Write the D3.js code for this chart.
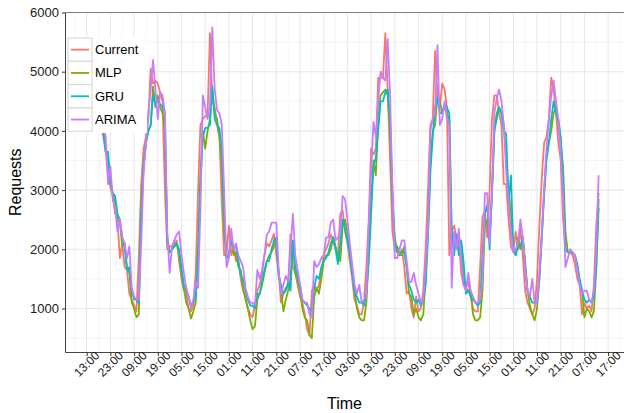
<!DOCTYPE html>
<html>
<head>
<meta charset="utf-8">
<script src="https://cdn.jsdelivr.net/npm/d3@7"></script>
<style>
  body { margin: 0; background: #fff; }
  svg { display: block; font-family: "Liberation Sans", Arial, sans-serif; }
</style>
</head>
<body>
<div id="chart"></div>
<script>
// Hourly request counts, hour 0 = 13:00 on the first day, data starts at hour 2
const startHour = 2;

const current = [
  4700, 4500, 4400, 4250, 4100, 3900, 3650, 3300, 3050, 2900,
  2600, 2500, 1850, 2100, 1700, 1650, 1250, 1150, 1050, 950,
  1900, 3100, 3700, 3900, 4200, 5050, 4800, 4850, 4800, 4650,
  4500, 3000, 2000, 2050, 2050, 2100, 2150, 1800, 1500, 1300,
  1250, 1000, 950, 1050, 1600, 3000, 4100, 4200, 4250, 4250,
  5650, 4500, 4400, 4100, 3900, 2800, 1900, 1900, 2400, 1900,
  2050, 1800, 1800, 1500, 1300, 1200, 1000, 900, 850, 1050,
  1300, 1400, 1600, 1900, 2100, 2050, 2150, 2260, 1900, 1600,
  1100, 1250, 1350, 1350, 2250, 1700, 1600, 1400, 1200, 1100,
  900, 650, 550, 1300, 1400, 1300, 1400, 1600, 1900, 2000,
  2100, 2250, 2150, 2000, 1900, 2600, 2650, 2300, 2100, 1800,
  1500, 1150, 1050, 900, 900, 1100, 1700, 2500, 3700, 3600,
  3700, 4900, 4900, 4900, 5650, 4700, 3500, 2300, 2000, 1950,
  1900, 2000, 1700, 1250, 1300, 1000, 850, 1200, 950, 1000,
  1300, 2000, 3000, 4100, 4200, 5350, 4600, 4400, 4800, 4700,
  4400, 1900, 2300, 2400, 2200, 2200, 1600, 1400, 1350, 1450,
  1200, 1000, 950, 950, 1700, 2550, 2650, 2200, 3000, 4200,
  4600, 4600, 4300, 4100, 3100, 3100, 2500, 2050, 1950, 2300,
  2000, 2350, 1900, 1300, 1100, 1000, 900, 1000, 1500, 2400,
  3200, 3800, 3900, 4200, 4900, 4700, 4300, 3800, 3500, 2500,
  2000, 1950, 1950, 1900, 1750, 1500, 1400, 900, 1100, 1000,
  1050, 950, 1400, 2400, 2950
];

const mlp = [
  4800, 4650, 4500, 4400, 4250, 4050, 3700, 3500, 3150, 2950,
  2800, 2500, 2450, 2050, 2100, 1700, 1600, 1100, 1000, 850,
  900, 2700, 3400, 3800, 4000, 4100, 4750, 4400, 4600, 4400,
  4300, 4000, 2200, 1950, 2000, 2050, 2100, 1900, 1600, 1350,
  1100, 1000, 830, 950, 1100, 2000, 3300, 4000, 3700, 4000,
  4200, 4700, 4300, 4200, 3900, 3500, 2300, 1850, 1900, 2200,
  1900, 1950, 1700, 1650, 1350, 1150, 1000, 800, 650, 700,
  1150, 1250, 1400, 1600, 1800, 1900, 1950, 2050, 2150, 1600,
  1300, 950, 1150, 1300, 1500, 2100, 1600, 1450, 1300, 1000,
  850, 800, 550, 500, 1200, 1350, 1250, 1500, 1800, 1900,
  1900, 2000, 2200, 2050, 1900, 1800, 2400, 2500, 2300, 2000,
  1700, 1300, 1000, 850, 800, 800, 1100, 1900, 2800, 3500,
  3250, 4200, 4600, 4650, 4700, 4600, 4000, 2800, 2200, 1950,
  1900, 1900, 2050, 1700, 1250, 1200, 900, 1000, 850, 800,
  900, 1500, 2300, 3500, 4000, 4100, 4600, 4500, 4300, 4400,
  4300, 4200, 2200, 2000, 2200, 2100, 2100, 1500, 1350, 1300,
  1300, 900, 800, 800, 850, 1300, 2400, 2500, 2200, 2900,
  4000, 4300, 4400, 4300, 4100, 3500, 3000, 2600, 2000, 1900,
  2200, 2000, 2200, 1800, 1300, 1050, 900, 800, 1000, 1500,
  2200, 3000, 3600, 3800, 4000, 4300, 4400, 4100, 3800, 3400,
  2300, 1950, 1950, 1950, 1900, 1700, 1450, 1300, 850, 1000,
  950, 850, 950, 1700, 2700
];

const gru = [
  4800, 4700, 4500, 4400, 4250, 4000, 3650, 3650, 3150, 2950,
  2900, 2600, 2500, 2200, 2050, 1650, 1700, 1300, 1150, 1150,
  1100, 2500, 3400, 3800, 4000, 4100, 4600, 4450, 4500, 4450,
  4400, 4300, 2100, 1950, 2000, 2050, 2100, 2000, 1700, 1400,
  1300, 1200, 1050, 1100, 1200, 1900, 3100, 3900, 4050, 4050,
  4100, 4750, 4200, 4100, 4050, 3700, 2600, 1850, 1900, 2150,
  2050, 2050, 1800, 1550, 1500, 1300, 1150, 1050, 1050, 1000,
  1250, 1250, 1450, 1650, 1800, 1800, 2000, 2150, 2200, 1550,
  1400, 1250, 1300, 1450, 1300, 2150, 1700, 1550, 1400, 1150,
  1100, 1050, 1000, 950, 1350, 1550, 1500, 1700, 1800, 1850,
  1950, 2100, 2200, 2000, 1750, 2100, 2500, 2350, 2150, 1950,
  1600, 1300, 1200, 1100, 1100, 1050, 1250, 1800, 2600, 3400,
  3550, 4000, 4500, 4500, 4650, 4700, 4200, 3000, 2050, 2050,
  1950, 1950, 1950, 1700, 1400, 1300, 1150, 1100, 1150, 1050,
  1150, 1400, 2200, 3300, 3900, 4400, 4550, 4300, 4300, 4450,
  4400, 4300, 2300, 1900, 2250, 1900, 2150, 1800, 1250, 1300,
  1200, 1150, 1100, 1050, 1100, 1900, 2600, 2750, 2000, 3000,
  4000, 4200, 4400, 4300, 4000, 3950, 2800, 3250, 2000, 1900,
  2050, 2050, 2200, 1700, 1300, 1200, 1100, 1100, 1100, 1500,
  2200, 2900, 3500, 3800, 4200, 4500, 4300, 4200, 3900, 3200,
  2000, 1950, 1950, 1950, 1900, 1750, 1500, 1300, 1150, 1100,
  1150, 1100, 1200, 1700, 2850
];

const arima = [
  5000, 4800, 4600, 4500, 4350, 4100, 3900, 3100, 3400, 2850,
  2700, 2300, 2500, 2200, 2100, 1850, 2050, 1350, 1200, 1150,
  1150, 2100, 3300, 3800, 4300, 4700, 5200, 4700, 4200, 4650,
  4600, 4300, 2300, 1600, 2050, 2150, 2250, 2300, 1900, 1600,
  1350, 1200, 1000, 1150, 1450, 1350, 2700, 4600, 4400, 4200,
  4400, 5750, 4700, 4350, 4300, 4100, 3000, 1700, 1850, 2350,
  2000, 2100, 1900, 1800, 1700, 1350, 1200, 1100, 1100, 1050,
  1650, 1500, 1650, 1900, 2250, 2300, 2450, 2450, 2450, 1650,
  1250, 1400, 1550, 1450, 2000, 2600, 1900, 1650, 1400, 1150,
  1100, 1100, 900, 850, 1800, 1700, 1750, 1850, 1900, 2200,
  2200, 2450, 2500, 2150, 2200, 2300, 2900, 2850, 2500, 2100,
  1750, 1400, 1250, 1400, 1100, 1150, 1200, 2400, 3300, 4150,
  3900, 4500, 5000, 4900, 4850, 5550, 4600, 3000, 1850, 1850,
  2000, 2150, 2150, 1800, 1450, 1450, 1600, 1400, 1250, 1100,
  1150, 1700, 2400, 4000, 4200, 4300, 5450, 4100, 4200, 4500,
  4200, 4100, 1350, 2300, 2000, 2350, 1800, 1400, 1300, 1600,
  1300, 1200, 1100, 1100, 1150, 1500, 2950, 2950, 2100, 3000,
  4300, 4550, 4700, 4500, 4100, 3300, 2800, 2300, 1950, 2000,
  2100, 2500, 2200, 1700, 1300, 1200, 1500, 1100, 1100, 1600,
  2300, 3000, 3700, 4200, 4600, 4850, 4500, 4200, 3600, 2900,
  1700, 1850, 2000, 1950, 1900, 1650, 1400, 1250, 1300, 1300,
  1150, 1100, 1300, 2000, 3250
];

const seriesNames = ["Current", "MLP", "GRU", "ARIMA"];
const seriesColors = ["#F8766D", "#7CAE00", "#00BFC4", "#C77CFF"];
const seriesData = [current, mlp, gru, arima];

const xTickHours = d3.range(0, 230, 10);
const xTickLabels = ["13:00", "23:00", "09:00", "19:00", "05:00", "15:00", "01:00",
  "11:00", "21:00", "07:00", "17:00", "03:00", "13:00", "23:00", "09:00", "19:00",
  "05:00", "15:00", "01:00", "11:00", "21:00", "07:00", "17:00"];
const yTicks = [1000, 2000, 3000, 4000, 5000, 6000];

const width = 624, height = 413;
const panel = {left: 65, right: 624, top: 12.5, bottom: 352};

const svg = d3.select('#chart').append('svg')
  .attr('width', width)
  .attr('height', height);

const x = d3.scaleLinear().domain([-9.15, 226.7]).range([panel.left, panel.right]);
const y = d3.scaleLinear().domain([265, 6000]).range([panel.bottom, panel.top]);

// grid: minor first, then major
const grid = svg.append('g');
const minorX = d3.range(-5, 230, 10);
const minorY = d3.range(500, 6000, 1000);
grid.selectAll('line.minx').data(minorX).enter().append('line')
  .attr('x1', d => x(d)).attr('x2', d => x(d))
  .attr('y1', panel.top).attr('y2', panel.bottom)
  .attr('stroke', '#f3f3f3').attr('stroke-width', 0.8);
grid.selectAll('line.miny').data(minorY).enter().append('line')
  .attr('x1', panel.left).attr('x2', panel.right)
  .attr('y1', d => y(d)).attr('y2', d => y(d))
  .attr('stroke', '#f3f3f3').attr('stroke-width', 0.8);
grid.selectAll('line.majx').data(xTickHours).enter().append('line')
  .attr('x1', d => x(d)).attr('x2', d => x(d))
  .attr('y1', panel.top).attr('y2', panel.bottom)
  .attr('stroke', '#e8e8e8').attr('stroke-width', 1.1);
grid.selectAll('line.majy').data(yTicks).enter().append('line')
  .attr('x1', panel.left).attr('x2', panel.right)
  .attr('y1', d => y(d)).attr('y2', d => y(d))
  .attr('stroke', '#e8e8e8').attr('stroke-width', 1.1);

// series lines
svg.append('clipPath').attr('id', 'clip').append('rect')
  .attr('x', panel.left).attr('y', panel.top)
  .attr('width', panel.right - panel.left).attr('height', panel.bottom - panel.top);

const line = d3.line()
  .x((d, i) => x(startHour + i))
  .y(d => y(d));

svg.append('g').attr('clip-path', 'url(#clip)')
  .selectAll('path.series')
  .data(seriesData)
  .enter().append('path')
  .attr('class', 'series')
  .attr('d', d => line(d))
  .attr('fill', 'none')
  .attr('stroke', (d, i) => seriesColors[i])
  .attr('stroke-width', 1.8)
  .attr('stroke-linejoin', 'round');

// panel top border
svg.append('line').attr('x1', panel.left).attr('x2', panel.right)
  .attr('y1', panel.top).attr('y2', panel.top)
  .attr('stroke', '#7f7f7f').attr('stroke-width', 1);

// axes
const xAxis = svg.append('g')
  .attr('transform', `translate(0,${panel.bottom})`)
  .call(d3.axisBottom(x).tickValues(xTickHours)
    .tickFormat((d, i) => xTickLabels[i]).tickSize(4).tickSizeOuter(0));
xAxis.selectAll('text')
  .attr('transform', 'translate(-0.5,12) rotate(-45)')
  .attr('text-anchor', 'middle')
  .attr('dy', '0.35em')
  .attr('y', 0)
  .style('font-size', '12px')
  .attr('fill', '#1a1a1a');

const yAxis = svg.append('g')
  .attr('transform', `translate(${panel.left},0)`)
  .call(d3.axisLeft(y).tickValues(yTicks).tickFormat(d3.format('d'))
    .tickSize(3).tickSizeOuter(0));
yAxis.selectAll('text')
  .attr('x', -6)
  .style('font-size', '13px')
  .attr('fill', '#1a1a1a');

[xAxis, yAxis].forEach(a => {
  a.select('.domain').attr('stroke', '#444').attr('stroke-width', 1);
  a.selectAll('.tick line').attr('stroke', '#333');
});

// axis titles
svg.append('text')
  .attr('x', (panel.left + panel.right) / 2)
  .attr('y', 409)
  .attr('text-anchor', 'middle')
  .style('font-size', '16px')
  .text('Time');
svg.append('text')
  .attr('transform', `translate(21,${(panel.top + panel.bottom) / 2}) rotate(-90)`)
  .attr('text-anchor', 'middle')
  .style('font-size', '16px')
  .text('Requests');

// legend
const legend = svg.append('g').attr('transform', 'translate(68,38)');
legend.append('rect')
  .attr('x', -1).attr('y', -1).attr('width', 80).attr('height', 96)
  .attr('fill', '#fff');
const keyH = 23.3;
const keys = legend.selectAll('g.key').data(seriesNames).enter().append('g')
  .attr('transform', (d, i) => `translate(0,${i * keyH})`);
keys.append('rect')
  .attr('width', 24).attr('height', keyH)
  .attr('fill', '#fff').attr('stroke', '#d4d4d4').attr('stroke-width', 1);
keys.append('line')
  .attr('x1', 3).attr('x2', 21)
  .attr('y1', keyH / 2).attr('y2', keyH / 2)
  .attr('stroke', (d, i) => seriesColors[i])
  .attr('stroke-width', 1.8);
keys.append('text')
  .attr('x', 27).attr('y', keyH / 2)
  .attr('dy', '0.35em')
  .style('font-size', '13px')
  .text(d => d);
</script>
</body>
</html>
